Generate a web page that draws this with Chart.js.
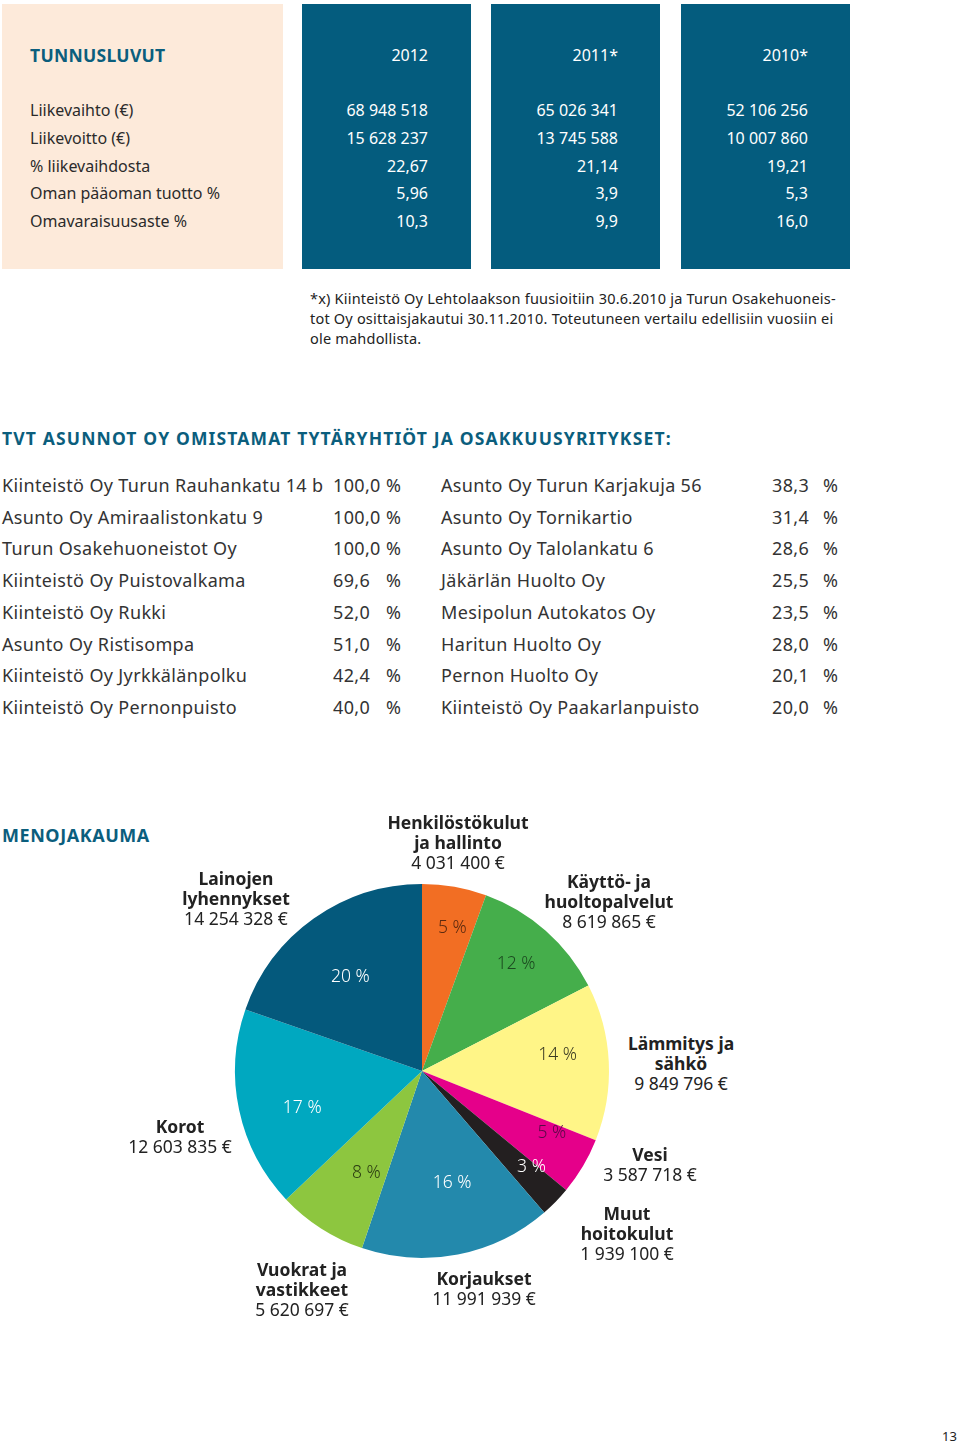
<!DOCTYPE html>
<html>
<head>
<meta charset="utf-8">
<script src="https://cdn.jsdelivr.net/npm/chart.js@4.4.1/dist/chart.umd.min.js"></script>
<style>
  html, body { margin: 0; padding: 0; background: #fff; }
  body { width: 960px; height: 1444px; position: relative; font-family: "Noto Sans", sans-serif; color: #2b2b2b; overflow: hidden; }
  .abs { position: absolute; }
  .peach { left: 2px; top: 4px; width: 281px; height: 265px; background: #fdeada; }
  .blue { top: 4px; width: 169px; height: 265px; background: #045c7e; }
  .title { color: #0b5e7d; font-weight: 700; font-size: 17.5px; letter-spacing: 0.3px; }
  .row { height: 27.8px; line-height: 27.8px; font-size: 16px; white-space: nowrap; }
  .val { color: #fff; text-align: right; }
  .note { left: 310px; top: 288px; font-size: 14.5px; letter-spacing: 0.2px; line-height: 20px; color: #222; white-space: nowrap; }
  .lrow { height: 31.7px; line-height: 31.7px; font-size: 18px; letter-spacing: 0.35px; color: #333; white-space: nowrap; }
  .plabel { text-align: center; font-size: 17.5px; line-height: 20px; color: #222; white-space: nowrap; transform: translateX(-50%); }
  .plabel div { height: 20px; }
  .plabel b { font-weight: 700; }
</style>
</head>
<body>

<div class="abs peach"></div>
<div class="abs blue" style="left:302px"></div>
<div class="abs blue" style="left:491px"></div>
<div class="abs blue" style="left:681px"></div>
<div class="abs title" style="left:30px;top:43px">TUNNUSLUVUT</div>
<div id="keyfigures"></div>

<div class="abs note">*x) Kiinteistö Oy Lehtolaakson fuusioitiin 30.6.2010 ja Turun Osakehuoneis-<br>tot Oy osittaisjakautui 30.11.2010. Toteutuneen vertailu edellisiin vuosiin ei<br>ole mahdollista.</div>

<div class="abs title" style="left:2px;top:426px;letter-spacing:1.15px">TVT ASUNNOT OY OMISTAMAT TYTÄRYHTIÖT JA OSAKKUUSYRITYKSET:</div>
<div id="companies"></div>

<div class="abs title" style="left:2px;top:823px;font-size:18px;letter-spacing:0.55px">MENOJAKAUMA</div>
<div class="abs" style="left:222px;top:871px;width:400px;height:400px">
  <canvas id="pieChart" width="400" height="400"></canvas>
</div>
<div id="pieLabels"></div>

<div class="abs" style="left:942px;top:1427px;font-size:13px;color:#222">13</div>

<script>
// Tunnusluvut
var years = ['2012', '2011*', '2010*'];
var metricLabels = ['Liikevaihto (€)', 'Liikevoitto (€)', '% liikevaihdosta', 'Oman pääoman tuotto %', 'Omavaraisuusaste %'];
var values2012 = ['68 948 518', '15 628 237', '22,67', '5,96', '10,3'];
var values2011 = ['65 026 341', '13 745 588', '21,14', '3,9', '9,9'];
var values2010 = ['52 106 256', '10 007 860', '19,21', '5,3', '16,0'];

// Tytäryhtiöt ja osakkuusyritykset
var leftCompanies = ['Kiinteistö Oy Turun Rauhankatu 14 b', 'Asunto Oy Amiraalistonkatu 9', 'Turun Osakehuoneistot Oy', 'Kiinteistö Oy Puistovalkama', 'Kiinteistö Oy Rukki', 'Asunto Oy Ristisompa', 'Kiinteistö Oy Jyrkkälänpolku', 'Kiinteistö Oy Pernonpuisto'];
var leftShares = ['100,0', '100,0', '100,0', '69,6', '52,0', '51,0', '42,4', '40,0'];
var rightCompanies = ['Asunto Oy Turun Karjakuja 56', 'Asunto Oy Tornikartio', 'Asunto Oy Talolankatu 6', 'Jäkärlän Huolto Oy', 'Mesipolun Autokatos Oy', 'Haritun Huolto Oy', 'Pernon Huolto Oy', 'Kiinteistö Oy Paakarlanpuisto'];
var rightShares = ['38,3', '31,4', '28,6', '25,5', '23,5', '28,0', '20,1', '20,0'];

// Menojakauma
var expenseNames = ['Henkilöstökulut\nja hallinto', 'Käyttö- ja\nhuoltopalvelut', 'Lämmitys ja\nsähkö', 'Vesi', 'Muut\nhoitokulut', 'Korjaukset', 'Vuokrat ja\nvastikkeet', 'Korot', 'Lainojen\nlyhennykset'];
var expenseValues = [4031400, 8619865, 9849796, 3587718, 1939100, 11991939, 5620697, 12603835, 14254328];
var expensePercents = [5, 12, 14, 5, 3, 16, 8, 17, 20];
var expenseColors = ['#f26e23', '#45ae4b', '#fff587', '#e5008a', '#231f20', '#2389ac', '#8dc63f', '#00a8c0', '#04597c'];
var percentTextColors = ['#5b2a10', '#1c4a20', '#3a3a22', '#5a0848', '#ffffff', '#ffffff', '#2c3e12', '#ffffff', '#ffffff'];

// label layout: [radius factor, angle shift in degrees]
var percentPos = [[0.78, 2], [0.76, 0], [0.73, -4], [0.77, -5], [0.78, -3], [0.62, -4], [0.62, -4], [0.67, -5], [0.63, -2]];
var nameBoxes = [[458, 812], [609, 871], [681, 1033], [650, 1144], [627, 1203], [484, 1268], [302, 1259], [180, 1116], [236, 868]];

function formatEuro(n) {
  return String(n).replace(/\B(?=(\d{3})+(?!\d))/g, ' ') + ' €';
}

// key figure table
var html = '';
var cols = [values2012, values2011, values2010];
var rightEdges = [428, 618, 808];
for (var c = 0; c < years.length; c++) {
  html += '<div class="abs row val" style="left:' + (rightEdges[c] - 140) + 'px;width:140px;top:42px">' + years[c] + '</div>';
}
for (var i = 0; i < metricLabels.length; i++) {
  var rowTop = 97 + i * 27.8;
  html += '<div class="abs row" style="left:30px;top:' + rowTop + 'px">' + metricLabels[i] + '</div>';
  for (var c = 0; c < cols.length; c++) {
    html += '<div class="abs row val" style="left:' + (rightEdges[c] - 140) + 'px;width:140px;top:' + rowTop + 'px">' + cols[c][i] + '</div>';
  }
}
document.getElementById('keyfigures').innerHTML = html;

// company list
html = '';
for (var i = 0; i < leftCompanies.length; i++) {
  var rowTop = 470 + i * 31.7;
  html += '<div class="abs lrow" style="left:2px;top:' + rowTop + 'px">' + leftCompanies[i] + '</div>';
  html += '<div class="abs lrow" style="left:333px;top:' + rowTop + 'px">' + leftShares[i] + '</div>';
  html += '<div class="abs lrow" style="left:386px;top:' + rowTop + 'px">%</div>';
  html += '<div class="abs lrow" style="left:441px;top:' + rowTop + 'px">' + rightCompanies[i] + '</div>';
  html += '<div class="abs lrow" style="left:772px;top:' + rowTop + 'px">' + rightShares[i] + '</div>';
  html += '<div class="abs lrow" style="left:823px;top:' + rowTop + 'px">%</div>';
}
document.getElementById('companies').innerHTML = html;

// names around the pie
html = '';
for (var i = 0; i < expenseNames.length; i++) {
  var lines = expenseNames[i].split('\n');
  html += '<div class="abs plabel" style="left:' + nameBoxes[i][0] + 'px;top:' + nameBoxes[i][1] + 'px">';
  lines.forEach(function(line) { html += '<div><b>' + line + '</b></div>'; });
  html += '<div>' + formatEuro(expenseValues[i]) + '</div></div>';
}
document.getElementById('pieLabels').innerHTML = html;

// percentages inside the slices
var percentLabels = {
  id: 'percentLabels',
  afterDatasetsDraw: function(chart) {
    var ctx = chart.ctx;
    var arcs = chart.getDatasetMeta(0).data;
    ctx.save();
    ctx.font = '300 17.5px "Noto Sans"';
    ctx.textAlign = 'center';
    ctx.textBaseline = 'middle';
    arcs.forEach(function(arc, i) {
      var p = arc.getProps(['x', 'y', 'startAngle', 'endAngle', 'outerRadius'], true);
      var a = (p.startAngle + p.endAngle) / 2 + percentPos[i][1] * Math.PI / 180;
      var r = p.outerRadius * percentPos[i][0];
      ctx.fillStyle = percentTextColors[i];
      ctx.fillText(expensePercents[i] + ' %', p.x + Math.cos(a) * r, p.y + Math.sin(a) * r);
    });
    ctx.restore();
  }
};

var ctx = document.getElementById('pieChart').getContext('2d');
new Chart(ctx, {
  type: 'pie',
  data: {
    labels: expenseNames,
    datasets: [{
      data: expenseValues,
      backgroundColor: expenseColors,
      borderWidth: 0
    }]
  },
  options: {
    responsive: false,
    animation: false,
    layout: { padding: 13 },
    plugins: {
      legend: { display: false },
      tooltip: { enabled: false }
    }
  },
  plugins: [percentLabels]
});
</script>
</body>
</html>
